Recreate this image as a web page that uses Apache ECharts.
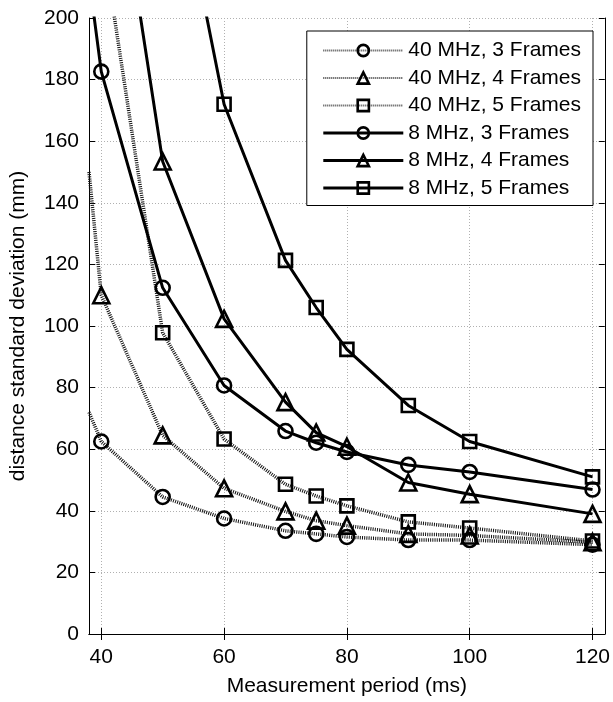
<!DOCTYPE html>
<html><head><meta charset="utf-8">
<script src="https://cdn.jsdelivr.net/npm/echarts@6/dist/echarts.min.js"></script>
<style>html,body{margin:0;padding:0;background:#fff}#c{width:613px;height:702px}</style>
</head><body><div id="c"></div>
<script>
// Measurement periods (ms) at which markers are drawn
const periods = [40, 50, 60, 70, 75, 80, 90, 100, 120];
const seriesNames = ['40 MHz, 3 Frames', '40 MHz, 4 Frames', '40 MHz, 5 Frames',
                     '8 MHz, 3 Frames', '8 MHz, 4 Frames', '8 MHz, 5 Frames'];
// distance standard deviation (mm); null = off the chart
const mhz40f3 = [62.5, 44.5, 37.5, 33.5, 32.5, 31.5, 30.5, 30.5, 29.0];
const mhz40f4 = [110, 64.5, 47.3, 39.8, 36.8, 35.2, 32.5, 32.0, 29.8];
const mhz40f5 = [null, 97.8, 63.3, 48.6, 44.8, 41.6, 36.4, 34.4, 30.2];
const mhz8f3  = [182.6, 112.4, 80.7, 65.9, 62.1, 59.1, 54.9, 52.6, 46.9];
const mhz8f4  = [null, 153.4, 102.3, 75.3, 65.4, 60.8, 49.2, 45.4, 39.0];
const mhz8f5  = [null, null, 172, 121.3, 106, 92.4, 74.2, 62.5, 51.0];
// lead-in of each curve towards the left / top edge, [period, value]
const lead40f3 = [38, 72];
const lead40f4 = [38, 150];
const lead40f5 = [40, 228];
const lead8f3  = [38, 213];
const lead8f4  = [40, 283];
const lead8f5  = [50, 272];
// axis ticks
const xTicks = [40, 60, 80, 100, 120];

const FONT = "'Liberation Sans', Arial, sans-serif";
const allValues = [mhz40f3, mhz40f4, mhz40f5, mhz8f3, mhz8f4, mhz8f5];
const allLeads = [lead40f3, lead40f4, lead40f5, lead8f3, lead8f4, lead8f5];
const symbols = ['circle', 'triangle', 'rect', 'circle', 'triangle', 'rect'];
const symSizes = {circle: 14, triangle: 16, rect: 13};

function build(i) {
  const data = [{value: allLeads[i], symbol: 'none'}];
  periods.forEach((p, k) => { if (allValues[i][k] != null) data.push([p, allValues[i][k]]); });
  const dotted = i < 3;
  return {
    name: seriesNames[i], type: 'line', data: data, clip: true,
    symbol: symbols[i], symbolSize: symSizes[symbols[i]],
    showAllSymbol: true, animation: false,
    lineStyle: dotted ? {color: '#111', width: 3.5, type: [1, 1.2]} : {color: '#000', width: 3, type: 'solid'},
    itemStyle: {color: 'rgba(255,255,255,0)', borderColor: '#000', borderWidth: 2.6},
    emphasis: {disabled: true}, z: dotted ? 2 : 3
  };
}

const axisCommon = {
  axisLine: {show: true, lineStyle: {color: '#000', width: 1}},
  axisTick: {show: true, inside: true, length: 6, lineStyle: {color: '#000'}},
};

const legendData = seriesNames.map((n, i) => ({
  name: n,
  itemStyle: {borderWidth: 2.6, borderColor: '#000', color: 'rgba(255,255,255,0)'},
  lineStyle: i < 3 ? {width: 2, type: [1, 1], color: '#444'} : {width: 3}
}));

const chart = echarts.init(document.getElementById('c'), null, {renderer: 'canvas'});
chart.setOption({
  animation: false,
  backgroundColor: '#fff',
  textStyle: {fontFamily: FONT},
  grid: {left: 88, right: 5, top: 18, bottom: 67, containLabel: false},
  xAxis: [{
    type: 'value', position: 'bottom', min: 38, max: 122,
    ...axisCommon,
    axisTick: {show: true, inside: true, length: 6, lineStyle: {color: '#000'}, customValues: xTicks},
    axisLabel: {customValues: xTicks, fontSize: 21, color: '#000', margin: 13, fontFamily: FONT},
    splitLine: {show: true, lineStyle: {color: '#b0b0b0', type: [1, 2], width: 1}},
    name: 'Measurement period (ms)', nameLocation: 'middle', nameGap: 42,
    nameTextStyle: {fontSize: 21, color: '#000', fontFamily: FONT}
  }, {
    type: 'value', position: 'top', min: 38, max: 122,
    ...axisCommon,
    axisTick: {show: true, inside: true, length: 6, lineStyle: {color: '#000'}, customValues: xTicks},
    axisLabel: {show: false, customValues: xTicks},
    splitLine: {show: false}
  }],
  yAxis: [{
    type: 'value', position: 'left', min: 0, max: 200, interval: 20,
    ...axisCommon,
    axisLabel: {fontSize: 21, color: '#000', margin: 10, fontFamily: FONT},
    splitLine: {show: true, lineStyle: {color: '#b0b0b0', type: [1, 2], width: 1}},
    name: 'distance standard deviation (mm)', nameLocation: 'middle', nameGap: 60,
    nameTextStyle: {fontSize: 21, color: '#000', fontFamily: FONT}
  }, {
    type: 'value', position: 'right', min: 0, max: 200, interval: 20,
    ...axisCommon,
    axisLabel: {show: false}, splitLine: {show: false}
  }],
  legend: {
    data: legendData, orient: 'vertical', top: 31, right: 20,
    itemWidth: 80, itemHeight: 14, itemGap: 6.5,
    padding: [9, 12, 7, 15],
    backgroundColor: '#fff', borderColor: '#000', borderWidth: 1,
    textStyle: {fontSize: 21, color: '#000', fontFamily: FONT, lineHeight: 21},
    selectedMode: false
  },
  series: [0, 1, 2, 3, 4, 5].map(build)
});
</script></body></html>
